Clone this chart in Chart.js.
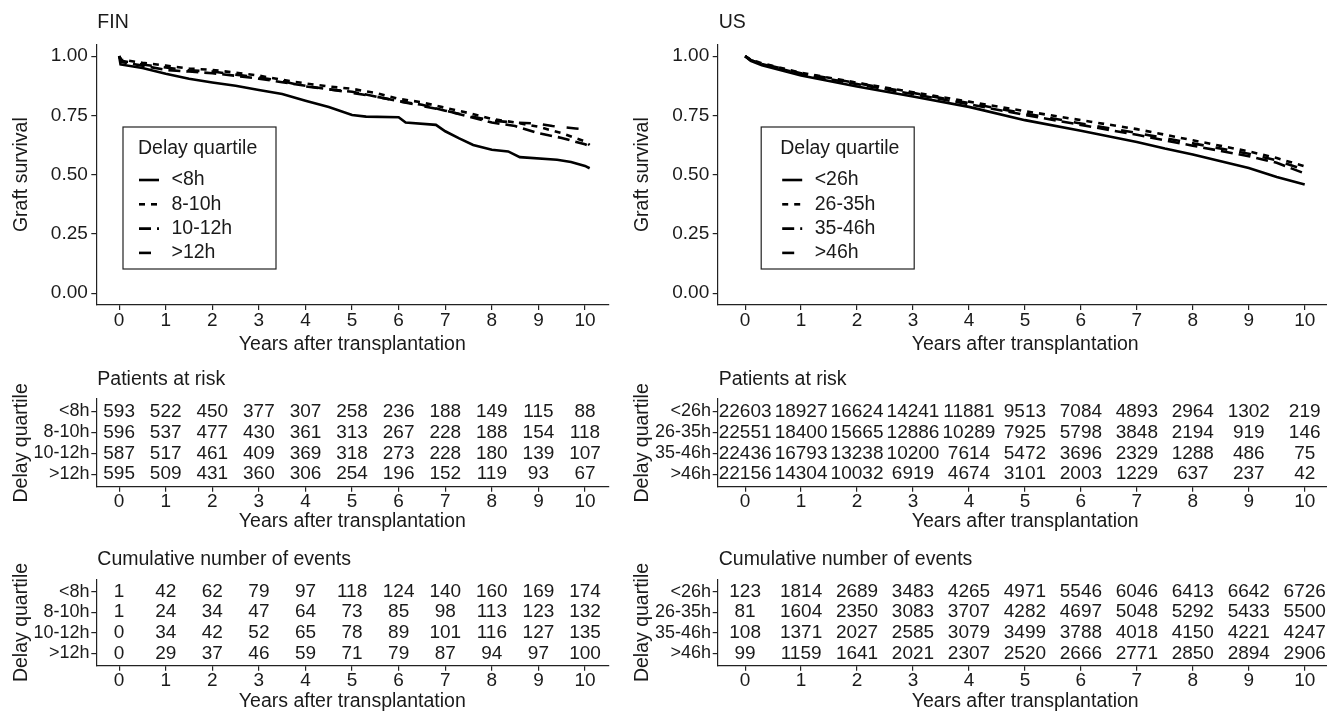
<!DOCTYPE html>
<html><head><meta charset="utf-8">
<script src="https://cdn.jsdelivr.net/npm/chart.js@4.4.1/dist/chart.umd.min.js"></script>
<style>
html,body{margin:0;padding:0;background:#fff;overflow:hidden;width:1327px;height:711px;position:relative;}
canvas{position:absolute;}
</style></head><body>
<canvas id="finKM" width="620" height="360" style="left:0;top:0"></canvas>
<canvas id="finRisk" width="620" height="175" style="left:0;top:360px"></canvas>
<canvas id="finEv" width="620" height="185" style="left:0;top:530px"></canvas>
<canvas id="usKM" width="720" height="360" style="left:620px;top:0"></canvas>
<canvas id="usRisk" width="720" height="175" style="left:620px;top:360px"></canvas>
<canvas id="usEv" width="720" height="185" style="left:620px;top:530px"></canvas>
<script>
// ---------- DATA ----------
const years = [0,1,2,3,4,5,6,7,8,9,10];
const survTicks = [0,0.25,0.5,0.75,1];
const finGroups = ['<8h','8-10h','10-12h','>12h'];
const usGroups = ['<26h','26-35h','35-46h','>46h'];

// FIN Kaplan-Meier curves (time in years, survival)
const finT8 = [0,0.03,0.5,1,1.5,2,2.5,3,3.5,4,4.5,5,5.3,6,6.15,6.8,7,7.3,7.6,8,8.35,8.6,9.4,9.7,10,10.1];
const finS8 = [1,0.965,0.95,0.926,0.905,0.889,0.875,0.857,0.84,0.812,0.785,0.752,0.745,0.742,0.72,0.71,0.683,0.653,0.625,0.605,0.598,0.574,0.563,0.553,0.537,0.527];
const finT810 = [0,0.05,0.5,1,1.5,2,2.5,3,3.5,4,4.5,5,5.5,6,6.5,7,7.5,8,8.5,9,9.5,10,10.1];
const finS810 = [1,0.985,0.972,0.96,0.948,0.942,0.93,0.918,0.9,0.885,0.872,0.862,0.845,0.82,0.805,0.782,0.76,0.735,0.72,0.702,0.675,0.64,0.625];
const finT1012 = [0,0.05,0.5,1,1.5,2,2.5,3,3.5,4,4.5,5,5.5,6,6.5,7,7.5,8,8.5,9,9.5,10,10.1];
const finS1012 = [1,0.975,0.96,0.942,0.935,0.928,0.917,0.905,0.89,0.875,0.86,0.85,0.83,0.81,0.795,0.77,0.745,0.72,0.705,0.675,0.655,0.628,0.62];
const finT12 = [0,0.05,0.5,1,1.5,2,2.5,3,3.5,4,4.5,5,5.5,6,6.5,7,7.5,8,8.5,9,9.3,9.8,10.1];
const finS12 = [1,0.98,0.965,0.952,0.94,0.935,0.922,0.91,0.895,0.872,0.86,0.845,0.83,0.81,0.79,0.77,0.748,0.728,0.72,0.715,0.705,0.695,0.69];

// US Kaplan-Meier curves
const usT26 = [0,0.1,0.3,1,2,3,4,5,6,7,7.5,8,9,9.5,10];
const usS26 = [1,0.98,0.962,0.918,0.872,0.83,0.786,0.73,0.685,0.638,0.61,0.585,0.528,0.49,0.458];
const usT2635 = [0,0.1,0.3,1,2,3,4,5,6,7,8,9,9.5,10];
const usS2635 = [1,0.985,0.97,0.93,0.888,0.848,0.808,0.768,0.73,0.692,0.645,0.598,0.57,0.535];
const usT3546 = [0,0.1,0.3,1,2,3,4,5,6,7,8,9,9.5,10];
const usS3546 = [1,0.983,0.967,0.925,0.882,0.84,0.797,0.752,0.71,0.668,0.622,0.578,0.55,0.505];
const usT46 = [0,0.1,0.3,1,2,3,4,5,6,7,8,9,9.5,10];
const usS46 = [1,0.983,0.968,0.928,0.886,0.845,0.802,0.758,0.716,0.676,0.632,0.588,0.56,0.52];

// Patients at risk
const finRisk8 = [593,522,450,377,307,258,236,188,149,115,88];
const finRisk810 = [596,537,477,430,361,313,267,228,188,154,118];
const finRisk1012 = [587,517,461,409,369,318,273,228,180,139,107];
const finRisk12 = [595,509,431,360,306,254,196,152,119,93,67];
const usRisk26 = [22603,18927,16624,14241,11881,9513,7084,4893,2964,1302,219];
const usRisk2635 = [22551,18400,15665,12886,10289,7925,5798,3848,2194,919,146];
const usRisk3546 = [22436,16793,13238,10200,7614,5472,3696,2329,1288,486,75];
const usRisk46 = [22156,14304,10032,6919,4674,3101,2003,1229,637,237,42];

// Cumulative number of events
const finEv8 = [1,42,62,79,97,118,124,140,160,169,174];
const finEv810 = [1,24,34,47,64,73,85,98,113,123,132];
const finEv1012 = [0,34,42,52,65,78,89,101,116,127,135];
const finEv12 = [0,29,37,46,59,71,79,87,94,97,100];
const usEv26 = [123,1814,2689,3483,4265,4971,5546,6046,6413,6642,6726];
const usEv2635 = [81,1604,2350,3083,3707,4282,4697,5048,5292,5433,5500];
const usEv3546 = [108,1371,2027,2585,3079,3499,3788,4018,4150,4221,4247];
const usEv46 = [99,1159,1641,2021,2307,2520,2666,2771,2850,2894,2906];

// ---------- STYLE ----------
const FAM = "'Liberation Sans', Arial, sans-serif";
const TXT = '#1a1a1a';
const AX = '#222';
const dashes = [[], [6,6], [12,6], [12,12]];
const LW = 2.6;

const panelTitle = {
  id: 'panelTitle',
  afterDraw(chart, args, opts) {
    const ctx = chart.ctx;
    ctx.save();
    ctx.font = '19.5px ' + FAM;
    ctx.fillStyle = TXT;
    ctx.textAlign = 'left';
    ctx.textBaseline = 'middle';
    ctx.fillText(opts.text, chart.chartArea.left + 1, opts.y);
    ctx.restore();
  }
};

const boxLegend = {
  id: 'boxLegend',
  afterDraw(chart, args, opts) {
    if (!opts.show) return;
    const ctx = chart.ctx;
    const x0 = chart.chartArea.left + opts.dx, y0 = opts.y;
    ctx.save();
    ctx.strokeStyle = AX; ctx.lineWidth = 1.2;
    ctx.strokeRect(x0, y0, opts.w, opts.h);
    ctx.font = '19.5px ' + FAM;
    ctx.fillStyle = TXT;
    ctx.textBaseline = 'middle';
    ctx.fillText(opts.title, x0 + opts.tx, y0 + 22);
    chart.data.datasets.forEach((ds, i) => {
      const yy = y0 + 53 + i * 24.3;
      ctx.beginPath();
      ctx.setLineDash(ds.borderDash || []);
      ctx.lineWidth = LW; ctx.strokeStyle = '#000';
      ctx.moveTo(x0 + opts.lx, yy); ctx.lineTo(x0 + opts.lx + 20, yy);
      ctx.stroke();
      ctx.setLineDash([]);
      ctx.fillText(ds.label, x0 + opts.lx + 32.5, yy);
    });
    ctx.restore();
  }
};

const cellText = {
  id: 'cellText',
  afterDatasetsDraw(chart) {
    const ctx = chart.ctx;
    ctx.save();
    ctx.font = '19px ' + FAM;
    ctx.fillStyle = TXT;
    ctx.textAlign = 'center';
    ctx.textBaseline = 'middle';
    chart.data.datasets.forEach((ds, di) => {
      chart.getDatasetMeta(di).data.forEach((el, i) => {
        ctx.fillText(String(ds.data[i].v), el.x, el.y);
      });
    });
    ctx.restore();
  }
};

function xAxis(max, h, pb) {
  return {
    type: 'linear', min: -0.49, max: max,
    afterBuildTicks: s => { s.ticks = years.map(v => ({value: v})); },
    afterFit: s => { s.height = h; },
    grid: {drawOnChartArea: false, drawTicks: true, tickLength: 5, color: AX, lineWidth: 1.2},
    border: {display: true, color: AX, width: 1.2},
    ticks: {font: {family: FAM, size: 19, lineHeight: 1.1}, color: TXT, padding: 0, maxRotation: 0, autoSkip: false},
    title: {display: true, text: 'Years after transplantation', font: {family: FAM, size: 19.5, lineHeight: 1.2}, color: TXT, padding: {top: 0, bottom: pb}}
  };
}

function kmChart(id, title, groups, series, yw, padRight, xmax, legend) {
  new Chart(document.getElementById(id), {
    type: 'line',
    data: {
      datasets: series.map((s, i) => ({
        label: groups[i],
        data: s[0].map((t, j) => ({x: t, y: s[1][j]})),
        borderColor: '#000', borderWidth: LW, borderDash: dashes[i],
        pointRadius: 0, tension: 0, fill: false
      }))
    },
    options: {
      responsive: false, animation: false, devicePixelRatio: 1,
      layout: {padding: {top: 44.3, right: padRight, left: 0, bottom: 0}},
      scales: {
        x: xAxis(xmax, 55, 3.3),
        y: {
          type: 'linear', min: -0.05, max: 1.05,
          afterBuildTicks: s => { s.ticks = survTicks.map(v => ({value: v})); },
          afterFit: s => { s.width = yw; },
          grid: {drawOnChartArea: false, drawTicks: true, tickLength: 5, color: AX, lineWidth: 1.2},
          border: {display: true, color: AX, width: 1.2},
          ticks: {font: {family: FAM, size: 19}, color: TXT, padding: 3.5, callback: v => v.toFixed(2)},
          title: {display: true, text: 'Graft survival', font: {family: FAM, size: 19.5, lineHeight: 1.2}, color: TXT, padding: {top: legend.tp, bottom: 0}}
        }
      },
      plugins: {
        legend: {display: false}, tooltip: {enabled: false},
        panelTitle: {text: title, y: 23},
        boxLegend: {show: true, title: 'Delay quartile', dx: legend.dx, y: 127, w: legend.w, h: 142, tx: legend.tx, lx: legend.lx}
      }
    },
    plugins: [panelTitle, boxLegend]
  });
}

function tableChart(id, title, groups, rows, yw, padRight, xmax, padTop, h, titleY, pb, tp) {
  new Chart(document.getElementById(id), {
    type: 'scatter',
    data: {
      datasets: rows.map((r, i) => ({
        label: groups[i],
        data: years.map((t, j) => ({x: t, y: i + 1, v: r[j]})),
        pointRadius: 0, showLine: false
      }))
    },
    options: {
      responsive: false, animation: false, devicePixelRatio: 1,
      layout: {padding: {top: padTop, right: padRight, left: 0, bottom: 0}},
      scales: {
        x: xAxis(xmax, h, pb),
        y: {
          type: 'linear', min: 0.4, max: 4.6, reverse: true,
          afterBuildTicks: s => { s.ticks = [1,2,3,4].map(v => ({value: v})); },
          afterFit: s => { s.width = yw; },
          grid: {drawOnChartArea: false, drawTicks: true, tickLength: 5, color: AX, lineWidth: 1.2},
          border: {display: true, color: AX, width: 1.2},
          ticks: {font: {family: FAM, size: 18}, color: TXT, padding: 1.7, callback: v => groups[v - 1]},
          title: {display: true, text: 'Delay quartile', font: {family: FAM, size: 19.5, lineHeight: 1.2}, color: TXT, padding: {top: tp, bottom: 0}}
        }
      },
      plugins: {
        legend: {display: false}, tooltip: {enabled: false},
        panelTitle: {text: title, y: titleY}
      }
    },
    plugins: [panelTitle, cellText]
  });
}

// FIN
kmChart('finKM', 'FIN', finGroups,
  [[finT8, finS8], [finT810, finS810], [finT1012, finS1012], [finT12, finS12]],
  96.3, 11.7, 10.5, {dx: 26.7, w: 153, tx: 15, lx: 16, tp: 9.6});
tableChart('finRisk', 'Patients at risk', finGroups, [finRisk8, finRisk810, finRisk1012, finRisk12],
  96.3, 11.7, 10.5, 39, 48.3, 20, 1.6, 10);
tableChart('finEv', 'Cumulative number of events', finGroups, [finEv8, finEv810, finEv1012, finEv12],
  96.3, 11.7, 10.5, 49.3, 49.3, 29.3, 1.6, 10);

// US
kmChart('usKM', 'US', usGroups,
  [[usT26, usS26], [usT2635, usS2635], [usT3546, usS3546], [usT46, usS46]],
  97.7, 7.3, 10.5, {dx: 43.5, w: 153, tx: 19, lx: 21, tp: 11});
tableChart('usRisk', 'Patients at risk', usGroups, [usRisk26, usRisk2635, usRisk3546, usRisk46],
  97.7, 7.3, 10.5, 39, 48.3, 20, 1.6, 11);
tableChart('usEv', 'Cumulative number of events', usGroups, [usEv26, usEv2635, usEv3546, usEv46],
  97.7, 7.3, 10.5, 49.3, 49.3, 29.3, 1.6, 11);
</script>
</body></html>
